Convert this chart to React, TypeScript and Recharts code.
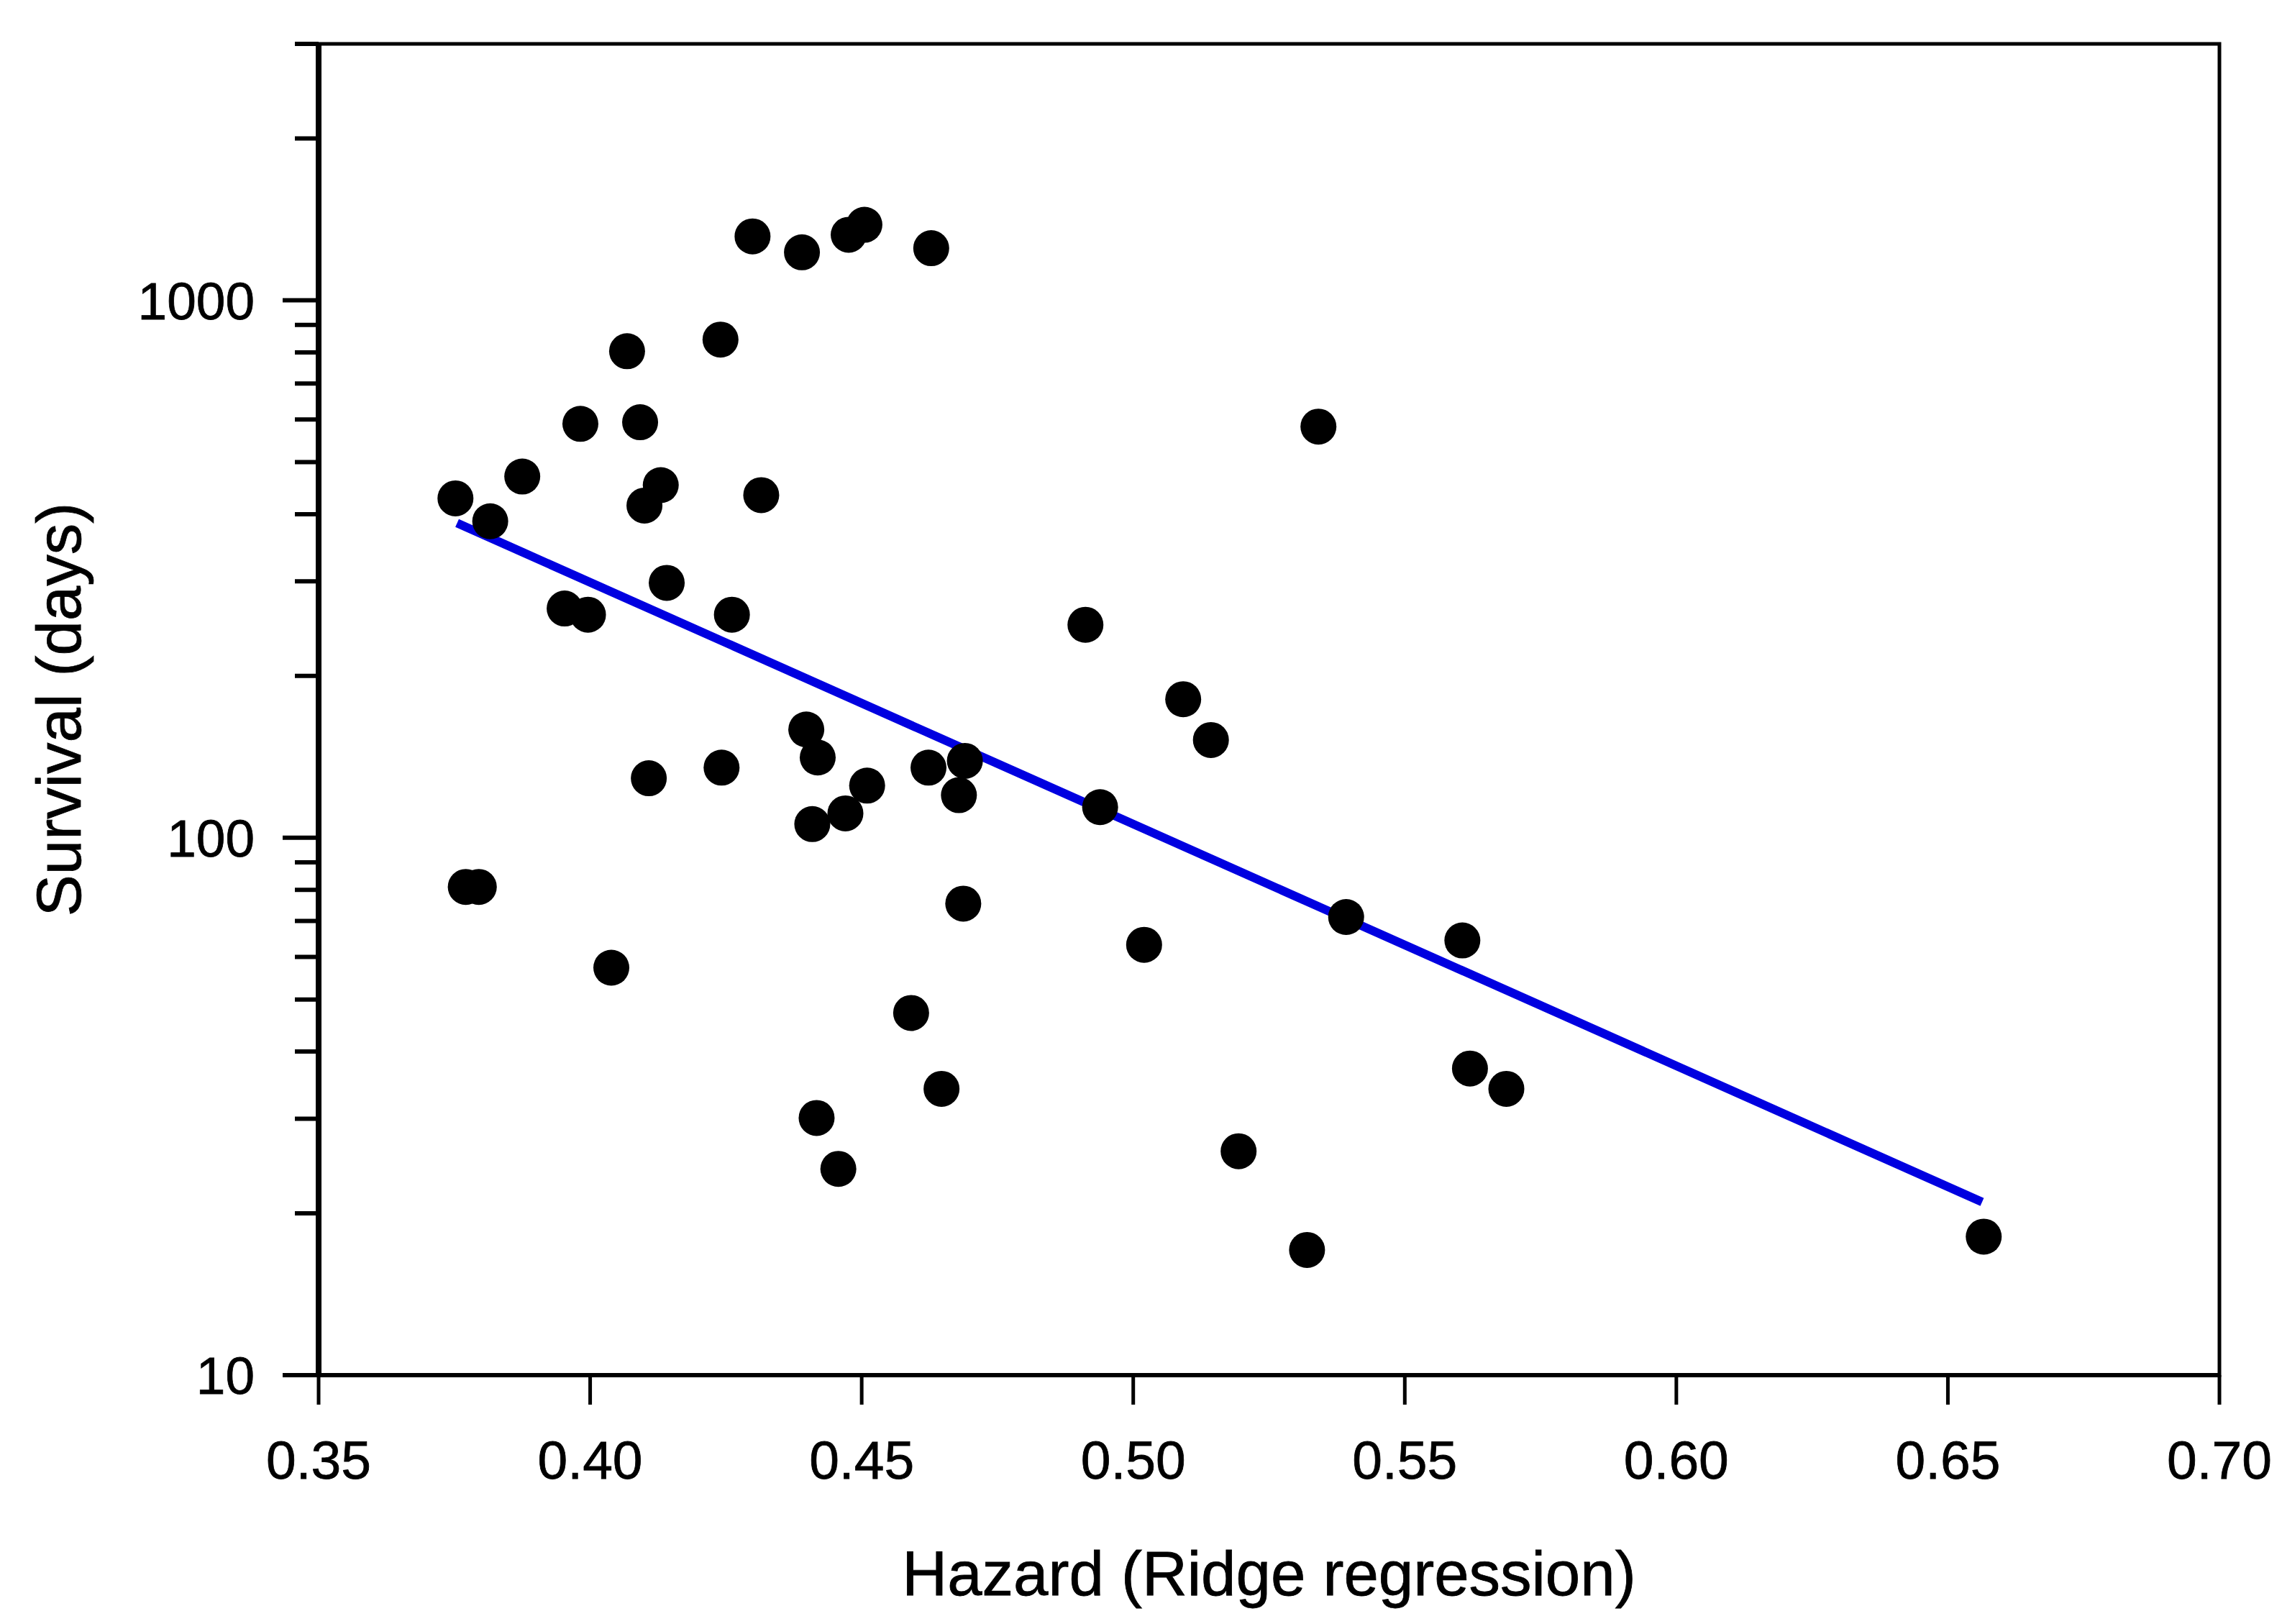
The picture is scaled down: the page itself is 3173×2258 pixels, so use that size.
import React from "react";
import {
  ScatterChart,
  Scatter,
  XAxis,
  YAxis,
  ReferenceArea,
  Label,
} from "recharts";

// Hazard (Ridge regression) values, x axis
const hazard = [
  0.3752, 0.3816, 0.3875, 0.3982, 0.3953, 0.3996, 0.4068, 0.4092, 0.41, 0.413,
  0.4141, 0.4108, 0.4039, 0.3771, 0.3795, 0.424, 0.4299, 0.439, 0.4476, 0.4505,
  0.4628, 0.4315, 0.4261, 0.4242, 0.4398, 0.4419, 0.4409, 0.447, 0.451, 0.4623,
  0.469, 0.4679, 0.4687, 0.4591, 0.4647, 0.4417, 0.4457, 0.4912, 0.4939, 0.502,
  0.5092, 0.5143, 0.5341, 0.5392, 0.5194, 0.532, 0.5606, 0.562, 0.5687, 0.6566,
];

// Survival (days), y axis
const survival = [
  428, 388, 470, 589, 267, 260, 804, 593, 415, 453,
  298, 129, 57.3, 81, 81, 845, 1315, 1228, 1324, 1382,
  1250, 434, 260, 135, 159, 141, 106, 111, 125, 135,
  139, 120, 75.4, 47.2, 34.1, 30.1, 24.2, 249, 114, 63.2,
  181, 152, 582, 71.2, 26.1, 17.1, 64.4, 37.2, 34.1, 18.1,
];

// Regression line end points
const fitHazard = [0.3755, 0.6563];
const fitSurvival = [385, 21.0];

const xTicks = [0.35, 0.4, 0.45, 0.5, 0.55, 0.6, 0.65, 0.7];
const yTicks = [
  10, 20, 30, 40, 50, 60, 70, 80, 90,
  100, 200, 300, 400, 500, 600, 700, 800, 900,
  1000, 2000, 3000,
];
const yLabeled = [10, 100, 1000];

const points = hazard.map((x, i) => ({ x, y: survival[i] }));
const fitData = fitHazard.map((x, i) => ({ x, y: fitSurvival[i] }));

const FONT = "'Liberation Sans', Arial, sans-serif";

const XTick = (props: any) => {
  const { x, y, payload } = props;
  return (
    <g>
      <line x1={x} y1={y} x2={x} y2={y + 41} stroke="#000" strokeWidth={5} />
      <text
        x={x}
        y={y + 144}
        textAnchor="middle"
        fontFamily={FONT}
        fontSize={75}
        fill="#000"
        stroke="#000"
        strokeWidth={0.8}
      >
        {Number(payload.value).toFixed(2)}
      </text>
    </g>
  );
};

const YTick = (props: any) => {
  const { x, y, payload } = props;
  const major = yLabeled.includes(payload.value);
  const len = major ? 50 : 33;
  return (
    <g>
      <line x1={x - len} y1={y} x2={x} y2={y} stroke="#000" strokeWidth={6} />
      {major && (
        <text
          x={x - 89}
          y={y}
          dy="0.36em"
          textAnchor="end"
          fontFamily={FONT}
          fontSize={73}
          fill="#000"
          stroke="#000"
          strokeWidth={0.8}
        >
          {payload.value}
        </text>
      )}
    </g>
  );
};

const Dot = (props: any) => (
  <circle cx={props.cx} cy={props.cy} r={25} fill="#000" />
);

const NoDot = () => <g />;

export default function App() {
  return (
    <div style={{ width: 3157, height: 2230, background: "#fff" }}>
      <ScatterChart
        width={3157}
        height={2230}
        margin={{ top: 53, right: 79, left: 0, bottom: 0 }}
      >
        <XAxis
          type="number"
          dataKey="x"
          domain={[0.35, 0.7]}
          ticks={xTicks}
          allowDataOverflow
          height={326}
          tickSize={0}
          tickMargin={0}
          tickLine={false}
          axisLine={{ stroke: "#000", strokeWidth: 6 }}
          tick={<XTick />}
          interval={0}
        >
          <Label
            content={(p: any) => {
              const vb = p.viewBox;
              return (
                <text
                  x={vb.x + vb.width / 2}
                  y={vb.y + 306}
                  textAnchor="middle"
                  fontFamily={FONT}
                  fontSize={87}
                  fill="#000"
                  stroke="#000"
                  strokeWidth={0.8}
                >
                  Hazard (Ridge regression)
                </text>
              );
            }}
          />
        </XAxis>
        <YAxis
          type="number"
          dataKey="y"
          scale="log"
          domain={[10, 3000]}
          ticks={yTicks}
          allowDataOverflow
          width={435}
          tickSize={0}
          tickMargin={0}
          tickLine={false}
          axisLine={{ stroke: "#000", strokeWidth: 8 }}
          tick={<YTick />}
          interval={0}
        >
          <Label
            content={(p: any) => {
              const vb = p.viewBox;
              const cx = vb.x + 73;
              const cy = vb.y + vb.height / 2;
              return (
                <text
                  x={cx}
                  y={cy}
                  transform={`rotate(-90, ${cx}, ${cy})`}
                  textAnchor="middle"
                  dominantBaseline="central"
                  fontFamily={FONT}
                  fontSize={87}
                  fill="#000"
                  stroke="#000"
                  strokeWidth={0.8}
                >
                  Survival (days)
                </text>
              );
            }}
          />
        </YAxis>
        <ReferenceArea
          x1={0.35}
          x2={0.7}
          y1={10}
          y2={3000}
          fill="none"
          fillOpacity={0}
          stroke="#000"
          strokeWidth={5}
          ifOverflow="visible"
        />
        <Scatter
          data={fitData}
          line={{ stroke: "#0000e0", strokeWidth: 12 }}
          shape={<NoDot />}
          isAnimationActive={false}
        />
        <Scatter data={points} shape={<Dot />} isAnimationActive={false} />
      </ScatterChart>
    </div>
  );
}
